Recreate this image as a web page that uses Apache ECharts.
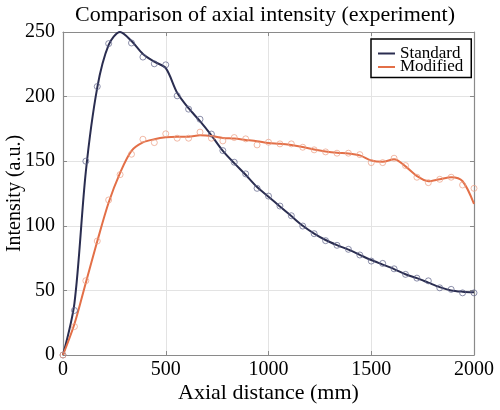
<!DOCTYPE html>
<html>
<head>
<meta charset="utf-8">
<script src="https://cdn.jsdelivr.net/npm/echarts@6/dist/echarts.min.js"></script>
<style>html,body{margin:0;padding:0;background:#fff}#c{width:500px;height:410px}</style>
</head>
<body>
<div id="c"></div>
<script>
// Axial positions of samples (mm)
const distance = [0, 55.6, 111.1, 166.7, 222.2, 277.8, 333.3, 388.9, 444.4, 500, 555.6, 611.1, 666.7, 722.2, 777.8, 833.3, 888.9, 944.4, 1000, 1055.6, 1111.1, 1166.7, 1222.2, 1277.8, 1333.3, 1388.9, 1444.4, 1500, 1555.6, 1611.1, 1666.7, 1722.2, 1777.8, 1833.3, 1888.9, 1944.4, 2000];
// Measured points (open circles)
const standardMeasured = [0, 34.5, 150, 207.8, 241, 250.5, 241.5, 230.6, 225.4, 224.6, 200.6, 190.3, 182.5, 171, 158.2, 149.2, 140.2, 129, 123, 115.3, 107.8, 99.8, 93.9, 88.5, 84.9, 81.8, 77.4, 72.7, 70.9, 66.7, 62.4, 59.5, 57.4, 52, 50.8, 48.1, 48.1];
const modifiedMeasured = [0, 22, 57.5, 88.2, 120, 139.6, 155.4, 167, 164.4, 171.2, 167.8, 167.8, 172.5, 167.8, 165.7, 168.3, 167.3, 162.6, 164.7, 163.4, 163.4, 160.8, 158.8, 157.2, 156.2, 156.2, 155.1, 148.9, 148.9, 152.3, 146.6, 137.6, 133.4, 136, 137.6, 131.6, 129];
// Fitted curves (solid lines)
const standardFit = [0, 40, 142, 207, 240, 250, 243, 233, 227, 222, 203, 191, 181, 170, 158, 148.5, 139.5, 130, 122.5, 115, 107.5, 100, 94, 89, 85, 81.5, 77.5, 73.5, 70, 66.5, 62.5, 59.5, 56, 52.5, 50, 49, 48.5];
const modifiedFit = [0, 24, 56, 88, 118, 141, 158, 164.5, 167, 168.5, 169, 169, 170, 169.5, 168, 167.5, 166.5, 165.5, 164, 163.5, 162.5, 161, 159, 157.5, 156.5, 156, 154.5, 150.5, 149.5, 151.5, 146, 138.5, 134.5, 136, 137.5, 134.5, 117];
const seriesNames = ['Standard', 'Modified'];
const xTicks = [0, 500, 1000, 1500, 2000];
const yTicks = [0, 50, 100, 150, 200, 250];

const pair = (xs, ys) => xs.map((x, i) => [x, ys[i]]);
const FONT = 'Liberation Serif';
const navy = '#2a2d50', orange = '#e36f47';
const navyPt = '#60658a', orangePt = '#eb9f85';

const chart = echarts.init(document.getElementById('c'), null, {renderer: 'canvas'});
const axisLineCol = '#8a8a8a';
chart.setOption({
  animation: false,
  backgroundColor: '#fff',
  title: {
    text: 'Comparison of axial intensity (experiment)',
    left: 260, top: -1, textAlign: 'center',
    textStyle: {fontFamily: FONT, fontSize: 22, fontWeight: 'normal', color: '#000'}
  },
  legend: {
    data: seriesNames,
    orient: 'vertical',
    left: 371, top: 39,
    padding: [6, 8, 2, 7],
    itemGap: -3.5,
    itemWidth: 17, itemHeight: 2,
    icon: 'rect',
    backgroundColor: '#fff',
    borderColor: '#000', borderWidth: 1.5,
    textStyle: {fontFamily: FONT, fontSize: 17, color: '#000'}
  },
  grid: {left: 63, right: 26, top: 32, bottom: 55, containLabel: false, outerBoundsMode: 'none'},
  xAxis: [{
    type: 'value', min: xTicks[0], max: xTicks[xTicks.length - 1], interval: 500,
    name: 'Axial distance (mm)', nameLocation: 'middle', nameGap: 27, nameMoveOverlap: false,
    nameTextStyle: {fontFamily: FONT, fontSize: 22, color: '#000'},
    axisLine: {lineStyle: {color: axisLineCol, width: 1.2}},
    axisTick: {inside: true, length: 4, lineStyle: {color: axisLineCol}},
    axisLabel: {fontFamily: FONT, fontSize: 20, color: '#000', margin: 5, formatter: v => String(v)},
    splitLine: {show: true, lineStyle: {color: '#e3e3e3', width: 1}}
  }, {
    type: 'value', position: 'top', min: 0, max: 2000, interval: 500,
    axisLine: {show: true, onZero: false, lineStyle: {color: axisLineCol, width: 1.2}},
    axisTick: {inside: true, length: 4, lineStyle: {color: axisLineCol}},
    axisLabel: {show: false}, splitLine: {show: false}
  }],
  yAxis: [{
    type: 'value', min: yTicks[0], max: yTicks[yTicks.length - 1], interval: 50,
    name: 'Intensity (a.u.)', nameLocation: 'middle', nameGap: 38, nameMoveOverlap: false,
    nameTextStyle: {fontFamily: FONT, fontSize: 20, color: '#000'},
    axisLine: {show: true, lineStyle: {color: axisLineCol, width: 1.2}},
    axisTick: {show: true, inside: true, length: 4, lineStyle: {color: axisLineCol}},
    axisLabel: {fontFamily: FONT, fontSize: 20, color: '#000', margin: 8, formatter: v => String(v)},
    splitLine: {show: true, lineStyle: {color: '#e3e3e3', width: 1}}
  }, {
    type: 'value', position: 'right', min: 0, max: 250, interval: 50,
    axisLine: {show: true, onZero: false, lineStyle: {color: axisLineCol, width: 1.2}},
    axisTick: {show: true, inside: true, length: 4, lineStyle: {color: axisLineCol}},
    axisLabel: {show: false}, splitLine: {show: false}
  }],
  series: [
    {name: seriesNames[0], type: 'line', data: pair(distance, standardFit), smooth: 0.3,
     showSymbol: false, lineStyle: {color: navy, width: 2}, itemStyle: {color: navy}, z: 3},
    {name: seriesNames[1], type: 'line', data: pair(distance, modifiedFit), smooth: 0.3,
     showSymbol: false, lineStyle: {color: orange, width: 2}, itemStyle: {color: orange}, z: 3},
    {name: 'Standard data', type: 'scatter', data: pair(distance, standardMeasured),
     symbol: 'circle', symbolSize: 6, itemStyle: {color: 'rgba(0,0,0,0)', borderColor: navyPt, borderWidth: 0.9}, z: 4},
    {name: 'Modified data', type: 'scatter', data: pair(distance, modifiedMeasured),
     symbol: 'circle', symbolSize: 6, itemStyle: {color: 'rgba(0,0,0,0)', borderColor: orangePt, borderWidth: 0.9}, z: 4}
  ]
});
</script>
</body>
</html>
